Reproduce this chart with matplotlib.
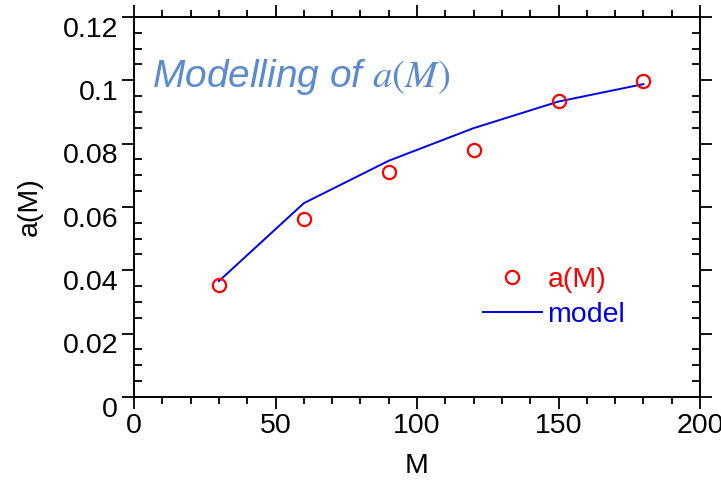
import numpy as np
import matplotlib
matplotlib.use("Agg")
import matplotlib.pyplot as plt
from matplotlib.ticker import MultipleLocator, FuncFormatter
from matplotlib.transforms import ScaledTranslation

plt.rcParams['font.family'] = ['Liberation Sans', 'DejaVu Sans']
plt.rcParams['mathtext.fontset'] = 'stix'

# Datos
M = [30, 60, 90, 120, 150, 180]
a_M = [0.0354, 0.0562, 0.0710, 0.0780, 0.0936, 0.0999]
modelo = [0.0366, 0.0612, 0.0746, 0.0849, 0.0933, 0.0988]

rojo = '#ff0000'
azul = '#0000e6'

fig = plt.figure(figsize=(7.21, 4.84), dpi=100)
ax = fig.add_axes([0.1859, 0.1798, 0.7850, 0.7851])

ax.plot(M, a_M, 'o', mfc='none', mec=rojo, ms=9.5, mew=1.6, label='a(M)', zorder=3)
ax.plot(M, modelo, '-', color=azul, lw=1.4, label='model')

ax.set_xlim(0, 200)
ax.set_ylim(0, 0.12)
ax.xaxis.set_major_locator(MultipleLocator(50))
ax.xaxis.set_minor_locator(MultipleLocator(10))
ax.yaxis.set_major_locator(MultipleLocator(0.02))
ax.yaxis.set_minor_locator(MultipleLocator(0.005))
ax.yaxis.set_major_formatter(FuncFormatter(lambda v, p: f"{v:g}"))

for s in ax.spines.values():
    s.set_linewidth(1.4)

ax.tick_params(which='both', top=True, right=True, labelsize=20.5, width=1.3)
ax.tick_params(which='major', direction='out', length=8.5, pad=3)
ax.tick_params(axis='x', which='minor', direction='out', length=5)
ax.tick_params(axis='y', which='minor', direction='in', length=5.5)

# etiquetas del eje y desplazadas hacia abajo
off = ScaledTranslation(0, -7 / 72, fig.dpi_scale_trans)
for lab in ax.get_yticklabels():
    lab.set_transform(lab.get_transform() + off)

ax.set_xlabel('M', fontsize=20.5, labelpad=10)
ax.set_ylabel('a(M)', fontsize=20.5, labelpad=14)

ax.text(0.032, 0.842, 'Modelling of $a(M)$', transform=ax.transAxes,
        fontsize=28, style='italic', color='#5b8bcf', va='center', ha='left')

leg = ax.legend(loc='upper left', bbox_to_anchor=(0.617, 0.342), frameon=False,
                fontsize=20.5, handlelength=2.05, handletextpad=0.2, labelspacing=0.32,
                borderaxespad=0, borderpad=0)
for txt, c in zip(leg.get_texts(), [rojo, azul]):
    txt.set_color(c)

fig.savefig('out.png', dpi=100)
